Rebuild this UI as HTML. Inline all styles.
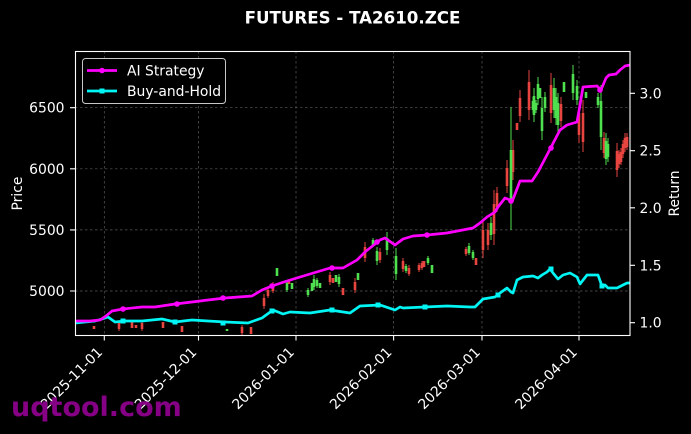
<!DOCTYPE html>
<html><head><meta charset="utf-8"><style>
html,body{margin:0;padding:0;background:#000;}
svg{display:block;}
text{font-family:"DejaVu Sans","Liberation Sans",sans-serif;fill:#fff;}
</style></head><body>
<svg width="691" height="434" viewBox="0 0 691 434" xmlns="http://www.w3.org/2000/svg">
<rect x="0" y="0" width="691" height="434" fill="#000"/>
<!-- grid -->
<g stroke="#5a5a5a" stroke-width="0.7" stroke-dasharray="2.5,2.5" fill="none">
<path d="M104.3 51V335.5M198.5 51V335.5M296 51V335.5M393.6 51V335.5M482 51V335.5M579 51V335.5"/>
<path d="M75 107.7H630M75 168.8H630M75 229.9H630M75 291H630"/>
</g>
<!-- candles red -->
<g stroke="#e84440" fill="none">
<path stroke-width="1" d="M94 326V329M119 321V331M132 322V328M136 325V328M142 321V331M163 322V328M182 326V332M242 325V335M251 327V334M264 294V309M268 287V298M273 282V293M289 281V284M330 272V285M333 278V283M343 288V295M355 278V293M365 242V262M380 248V263M403 258V272M409 265V276M419 263V272M422 261V270M424 261V267M466 247V256M476 258V265M483 220V258M488 223V250M494 190V245M497 187V212M507 160V193M513 140V180M517 123V130M520 90V122M529 70V120M551 73V123M561 97V127M579 103V143M583 100V152M604 132V158M617 143V177M619 150V168M621 148V165M623 140V158M625 133V152M627 133V150"/>
<path stroke-width="2.6" d="M94 326V329M119 323V329M132 322V328M136 325V328M142 323V329M163 322V328M182 326V332M242 327V333M251 327V334M264 298V306M268 290V296M273 285V291M289 281V284M330 275V282M333 278V283M343 288V295M355 282V290M365 247V258M380 252V260M403 261V269M409 268V274M419 265V270M422 263V268M424 261V267M466 249V254M476 258V265M483 230V250M488 230V245M494 204V234M497 193V207M507 168V186M513 150V172M517 123V130M520 98V116M529 82V110M551 85V113M561 104V121M579 113V135M583 113V142M604 138V153M617 151V170M619 154V164M621 152V162M623 144V154M625 138V148M627 137V147"/>
</g>
<!-- candles green -->
<g stroke="#4fe04f" fill="none">
<path stroke-width="1" d="M227 329V331M277 268V276M287 280V292M292 283V289M308 288V297M312 283V291M314 275V290M317 278V288M320 283V288M336 275V282M339 274V287M358 273V280M373 238V247M377 247V265M387 232V255M396 248V280M406 264V273M428 256V265M432 265V273M469 243V255M473 250V260M491 217V240M511 107V230M533 97V113M534 88V122M536 100V113M538 77V105M540 88V98M542 97V140M545 92V112M554 78V118M556 88V125M558 93V133M564 82V92M573 65V100M577 80V105M586 92V98M598 93V108M601 85V150M606 133V165M608 138V162"/>
<path stroke-width="2.6" d="M227 329V331M277 268V276M287 283V290M292 283V289M308 290V295M312 283V291M314 279V287M317 280V286M320 283V288M336 275V282M339 277V284M358 273V280M373 240V245M377 251V261M387 238V250M396 256V274M406 266V271M428 258V263M432 265V273M469 246V253M473 252V258M491 223V235M511 150V200M533 101V110M534 96V115M536 103V110M538 84V99M540 88V98M542 108V131M545 97V108M554 88V110M556 97V118M558 103V125M564 82V92M573 74V93M577 86V100M586 92V98M598 97V105M601 101V137M606 141V159M608 144V157"/>
</g>
<!-- Buy-and-Hold -->
<polyline fill="none" stroke="#00f5f5" stroke-width="2.7" stroke-linejoin="round" points="75,323 95,321 102,319 108,317 115,322 125,321 142,321 162,319 175,322 192,320 208,321 225,322 248,323 262,318 273,310 283,314 290,312 310,313 330,310 350,313 360,306 380,305 395,310 400,307 403,308 425,307 447,306 470,307 475,307 483,299 495,297 500,293 507,288 511,292 513,293 517,280 523,277 533,276 538,278 542,275 547,272 550,269 553,273 558,279 563,275 570,273 577,277 580,284 587,275 598,275 602,286 605,285 608,288 617,288 627,283 630,283"/>
<g fill="#00f5f5">
<rect x="120.5" y="318.5" width="5" height="5"/><rect x="172.5" y="319.5" width="5" height="5"/><rect x="220.5" y="320.5" width="5" height="5"/><rect x="269.5" y="308.5" width="5" height="5"/><rect x="329.5" y="307.5" width="5" height="5"/><rect x="375.5" y="302.5" width="5" height="5"/><rect x="422.5" y="304.5" width="5" height="5"/><rect x="495.5" y="292.5" width="5" height="5"/><rect x="548.5" y="266.5" width="5" height="5"/><rect x="599.5" y="283.5" width="5" height="5"/>
</g>
<!-- AI Strategy -->
<polyline fill="none" stroke="#ff00ff" stroke-width="2.7" stroke-linejoin="round" points="75,321 90,321 100,320 106,316 112,311 123,309 142,307 155,307 175,304 192,302 208,300 225,298 252,296 262,290 272,286 287,281 310,274 330,268 343,268 357,260 365,252 380,240 385,238 395,245 403,239 413,236 427,235 447,233 473,228 480,223 487,217 495,212 498,207 505,198 510,200 512,202 520,181 532,181 538,172 548,153 560,130 567,125 577,122 580,105 583,87 597,86 601,90 606,78 609,75 616,74 620,70 625,66 630,65"/>
<g fill="#ff00ff">
<circle cx="123" cy="309" r="2.8"/><circle cx="177" cy="304" r="2.8"/><circle cx="223" cy="298" r="2.8"/><circle cx="272" cy="286" r="2.8"/><circle cx="332" cy="268" r="2.8"/><circle cx="377" cy="242" r="2.8"/><circle cx="427" cy="235" r="2.8"/><circle cx="511" cy="201" r="2.8"/><circle cx="551" cy="148" r="2.8"/><circle cx="600" cy="90" r="2.8"/>
</g>
<!-- frame -->
<rect x="75.5" y="51.5" width="554.5" height="284" fill="none" stroke="#fff" stroke-width="1.1"/>
<!-- ticks -->
<g stroke="#fff" stroke-width="1.1">
<path d="M70 107.7H75M70 168.8H75M70 229.9H75M70 291H75"/>
<path d="M630 93.3H635M630 150.7H635M630 207.8H635M630 265.3H635M630 322.7H635"/>
<path d="M104.3 335.5V340.5M198.5 335.5V340.5M296 335.5V340.5M393.6 335.5V340.5M482 335.5V340.5M579 335.5V340.5"/>
</g>
<g font-size="13.9">
<text x="64.5" y="112.7" text-anchor="end">6500</text>
<text x="64.5" y="173.8" text-anchor="end">6000</text>
<text x="64.5" y="234.9" text-anchor="end">5500</text>
<text x="64.5" y="296" text-anchor="end">5000</text>
<text x="639.5" y="98.3">3.0</text>
<text x="639.5" y="155.7">2.5</text>
<text x="639.5" y="212.8">2.0</text>
<text x="639.5" y="270.3">1.5</text>
<text x="639.5" y="327.7">1.0</text>
<text x="103.3" y="353" text-anchor="end" transform="rotate(-45 103.3 353)">2025-11-01</text>
<text x="197.5" y="353" text-anchor="end" transform="rotate(-45 197.5 353)">2025-12-01</text>
<text x="295" y="353" text-anchor="end" transform="rotate(-45 295 353)">2026-01-01</text>
<text x="392.6" y="353" text-anchor="end" transform="rotate(-45 392.6 353)">2026-02-01</text>
<text x="481" y="353" text-anchor="end" transform="rotate(-45 481 353)">2026-03-01</text>
<text x="578" y="353" text-anchor="end" transform="rotate(-45 578 353)">2026-04-01</text>
<text x="22" y="193.5" text-anchor="middle" transform="rotate(-90 22 193.5)">Price</text>
<text x="679" y="193.5" text-anchor="middle" transform="rotate(-90 679 193.5)">Return</text>
</g>
<text x="352.5" y="23.5" text-anchor="middle" font-size="16.67" font-weight="bold">FUTURES - TA2610.ZCE</text>
<!-- legend -->
<rect x="82.5" y="58.5" width="143" height="45" rx="3" fill="#000" stroke="#c8c8c8" stroke-width="1"/>
<path d="M87 70.5H117" stroke="#ff00ff" stroke-width="2.7"/>
<circle cx="102" cy="70.5" r="2.8" fill="#ff00ff"/>
<path d="M87 91H117" stroke="#00f5f5" stroke-width="2.7"/>
<rect x="99.5" y="88.5" width="5" height="5" fill="#00f5f5"/>
<text x="127" y="75.3" font-size="13.9">AI Strategy</text>
<text x="127" y="95.8" font-size="13.9">Buy-and-Hold</text>
<!-- watermark -->
<text x="11" y="416" font-size="27" font-weight="bold" style="fill:#850085">uqtool.com</text>
</svg>
</body></html>
